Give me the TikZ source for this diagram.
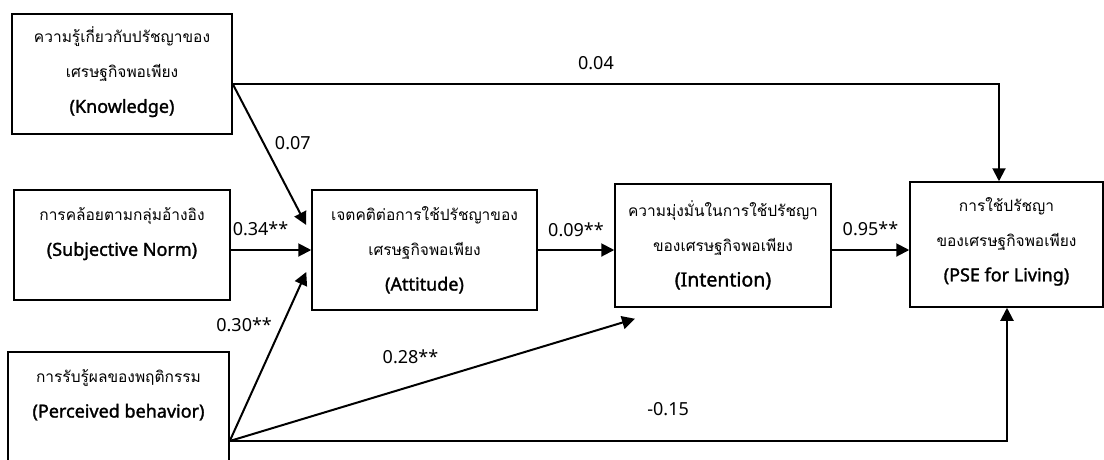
\documentclass[tikz,border=0pt]{standalone}
\usepackage{fontspec}
\setmainfont{Loma}[Script=Thai]
\newfontfamily\engfont{Noto Sans}
\newfontfamily\engboldfont{Noto Sans}[FakeBold=1.6]
\usetikzlibrary{arrows.meta,positioning,calc}

\newcommand\engname[1]{{\engboldfont\fontsize{18}{35}\selectfont #1}}

\begin{document}
\begin{tikzpicture}[x=1pt, y=-1pt, >={Triangle[length=13pt,width=13pt]},
    box/.style={draw, line width=1.5pt, inner sep=0pt},
    txt/.style={align=center, font=\fontsize{15.5}{35}\selectfont},
    link/.style={->, line width=2pt},
    coef/.style={font=\engfont\fontsize{18}{22}\selectfont}]

    \path[use as bounding box, clip] (0,0) rectangle (1104,459);

    % boxes
    \node[box, minimum width=220pt, minimum height=120pt] (know) at (122,74) {};
    \node[box, minimum width=216pt, minimum height=110pt] (norm) at (122,245) {};
    \node[box, minimum width=221pt, minimum height=130pt] (perc) at (118.5,417) {};
    \node[box, minimum width=225pt, minimum height=120pt] (att) at (424.5,250) {};
    \node[box, minimum width=216pt, minimum height=123pt] (int) at (723,245.5) {};
    \node[box, minimum width=193pt, minimum height=125pt] (pse) at (1006.5,244.5) {};

    % texts
    \node[txt] (knowtxt) at (122,72) {ความรู้เกี่ยวกับปรัชญาของ\\เศรษฐกิจพอเพียง\\\engname{(Knowledge)}};
    \node[txt] (normtxt) at (122,234) {การคล้อยตามกลุ่มอ้างอิง\\\engname{(Subjective Norm)}};
    \node[txt] (perctxt) at (118.5,395) {การรับรู้ผลของพฤติกรรม\\\engname{(Perceived behavior)}};
    \node[txt] (atttxt) at (424.5,250) {เจตคติต่อการใช้ปรัชญาของ\\เศรษฐกิจพอเพียง\\\engname{(Attitude)}};
    \node[txt] (inttxt) at (723,245) {ความมุ่งมั่นในการใช้ปรัชญา\\ของเศรษฐกิจพอเพียง\\{\engboldfont\fontsize{19.5}{35}\selectfont (Intention)}};
    \node[txt] (psetxt) at (1006.5,241.5) {การใช้ปรัชญา\\ของเศรษฐกิจพอเพียง\\\engname{(PSE for Living)}};

    \coordinate (kout) at ([yshift=-10pt]know.east);
    \coordinate (pout) at ([yshift=-24pt]perc.east);

    % paths
    \draw[link] (kout) -| ([xshift=-7.5pt]pse.north) node[coef, pos=0.237, above=10pt] {0.04};
    \draw[link] (kout) -- ([xshift=-5pt,yshift=25pt]att.west) node[coef, pos=0.42, right=7pt] {0.07};
    \draw[link] (att.west -| norm.east) -- (att.west) node[coef, pos=0.37, above=10pt] {0.34**};
    \draw[link] (pout) -- ([xshift=-5pt,yshift=-22pt]att.west) node[coef, pos=0.686, left=6pt] {0.30**};
    \draw[link] (pout) -- ([xshift=-88pt,yshift=-11pt]int.south) node[coef, pos=0.446, above=18pt] {0.28**};
    \draw[link] (pout) -| ([xshift=0.5pt]pse.south) node[coef, pos=0.282, above=21pt] {-0.15};
    \draw[link] (att.east) -- (att.east -| int.west) node[coef, midway, above=9pt] {0.09**};
    \draw[link] (int.east |- att.east) -- (pse.west |- att.east) node[coef, midway, above=10pt] {0.95**};

\end{tikzpicture}
\end{document}
